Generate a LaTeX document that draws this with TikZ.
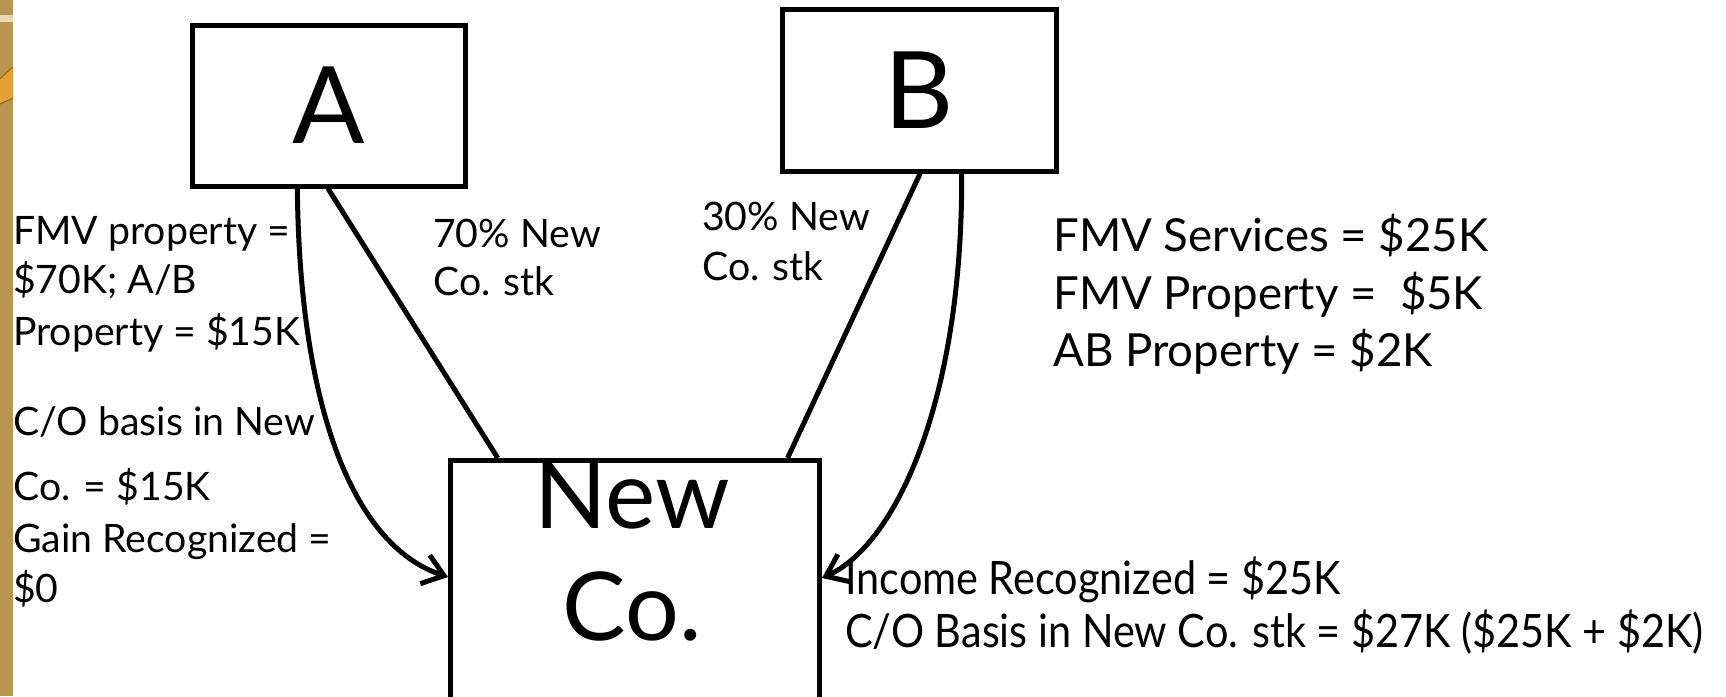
\documentclass[tikz,border=0pt]{standalone}
\usepackage{fontspec}
\setmainfont{Lato}
\newfontfamily\condfont[FakeStretch=0.9]{Lato}
\usetikzlibrary{arrows.meta,calc}
\definecolor{gold}{HTML}{B9944C}
\definecolor{cream}{HTML}{E8D9B4}
\definecolor{amber}{HTML}{E3A232}
\definecolor{brownline}{HTML}{8A6420}
\begin{document}
\begin{tikzpicture}[x=1pt,y=-1pt,
  box/.style={draw, line width=5pt, inner sep=0pt},
  link/.style={line width=5pt},
  flow/.style={line width=5pt, -{Straight Barb[length=20pt,width=30pt,line width=5pt]}},
  lab/.style={anchor=base west, inner sep=0pt, font=\fontsize{39.2}{45}\selectfont},
  labR/.style={anchor=base west, inner sep=0pt, font=\fontsize{45.6}{57}\selectfont},
  labI/.style={anchor=base west, inner sep=0pt, font=\condfont\fontsize{46}{55}\selectfont},
  big/.style={font=\fontsize{107}{107}\selectfont},
  newco/.style={anchor=base, inner sep=0pt, font=\fontsize{95}{112}\selectfont}
]
\useasboundingbox (0,0) rectangle (1726,696);
\clip (0,0) rectangle (1726,696);
\fill[white] (0,0) rectangle (1726,696);
% decorative strip
\fill[gold] (0,0) rectangle (13,696);
\fill[cream] (0,15) rectangle (13,22);
\fill[amber] (0,79) .. controls (5,74) .. (13,67) -- (13,98) .. controls (6,101) .. (0,104) -- cycle;
\draw[brownline, line width=1pt] (0,79) .. controls (5,74) .. (13,67);
\draw[brownline, line width=1pt] (13,98) .. controls (6,101) .. (0,104);

% main boxes
\node[box, big, minimum width=273pt, minimum height=161pt] (A) at (328.5,105.5) {A};
\node[box, big, minimum width=274pt, minimum height=162pt] (B) at (919,90) {B};
\node[box, minimum width=369pt, minimum height=300pt, anchor=north west] (NewCo) at (448,458) {};
\node[newco] (NewCoL1) at (632,528) {New};
\node[newco] (NewCoL2) at (632,640) {Co.};

% connectors
\draw[link] ($(A.south west)!0.498!(A.south east)$) -- ($(NewCo.north west)!0.133!(NewCo.north east)$);
\draw[flow] ($(A.south west)!0.388!(A.south east)$) .. controls +(2,214) and +(-97,-32) .. ($(NewCo.north west)+(0,119)$);
\draw[link] ($(B.south west)!0.504!(B.south east)$) -- ($(NewCo.north west)!0.908!(NewCo.north east)$);
\draw[flow] ($(B.south west)!0.653!(B.south east)$) .. controls +(1,229) and +(73,-33) .. ($(NewCo.north east)+(0,120)$);

% left texts
\node[lab] (L1) at (13,244) {FMV property =};
\node[lab] (L2) at (13,293) {\$70K; A/B};
\node[lab] (L3) at (13,345) {Property = \$15K};
\node[lab] (L4) at (13,435) {C/O basis in New};
\node[lab] (L5) at (13,500) {Co. = \$15K};
\node[lab] (L6) at (13,552) {Gain Recognized =};
\node[lab] (L7) at (13,602) {\$0};

% middle texts
\node[lab] (M1) at (433,247) {70\% New};
\node[lab] (M2) at (433,295) {Co. stk};
\node[lab] (M3) at (702,230) {30\% New};
\node[lab] (M4) at (702,280) {Co. stk};

% right texts
\node[labR] (R1) at (1053,251) {FMV Services = \$25K};
\node[labR] (R2) at (1053,309) {FMV Property = \ \$5K};
\node[labR] (R3) at (1053,366) {AB Property = \$2K};

% bottom right texts
\node[labI] (I1) at (845,594) {Income Recognized = \$25K};
\node[labI] (I2) at (845,647) {C/O Basis in New Co. stk = \$27K (\$25K + \$2K)};
\end{tikzpicture}
\end{document}
